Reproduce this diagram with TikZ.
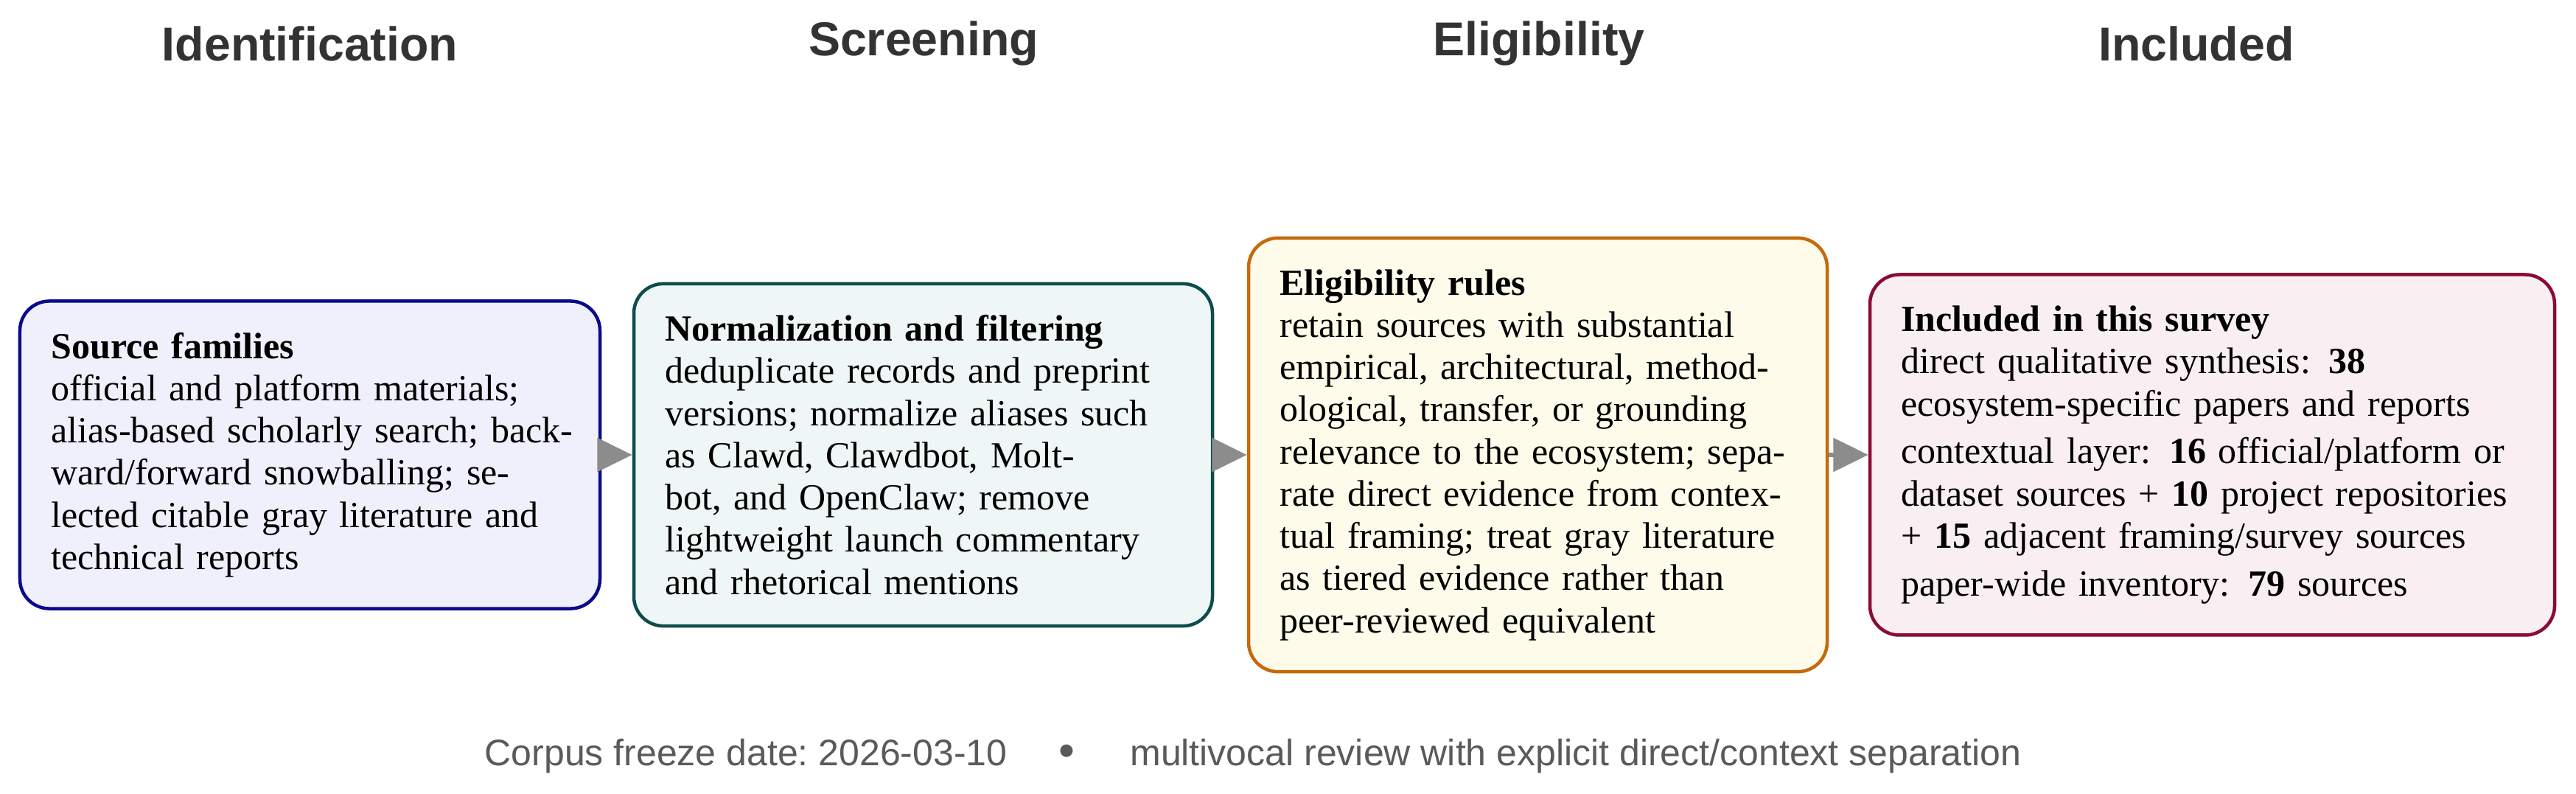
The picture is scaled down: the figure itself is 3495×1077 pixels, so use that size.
\documentclass[tikz,border=0pt]{standalone}
\usepackage{fontspec}
\setmainfont{Liberation Serif}
\newfontfamily\headfont{Liberation Sans}
\usetikzlibrary{arrows.meta}
\definecolor{bAd}{HTML}{0A0A8C}
\definecolor{bAf}{HTML}{F0F0FC}
\definecolor{bBd}{HTML}{0E4D4B}
\definecolor{bBf}{HTML}{EEF7F6}
\definecolor{bCd}{HTML}{C46A0A}
\definecolor{bCf}{HTML}{FFFBEB}
\definecolor{bDd}{HTML}{8A0A38}
\definecolor{bDf}{HTML}{F9EEF2}
\definecolor{headgray}{HTML}{333333}
\definecolor{footgray}{HTML}{5A5A5A}
\definecolor{arrgray}{HTML}{8C8C8C}
\newcommand\bxl[1]{\mbox{#1}\\}
\begin{document}
\begin{tikzpicture}[x=0.2pt,y=-0.2pt,
  stagebox/.style={rectangle, rounded corners=8pt, line width=0.9pt, inner sep=8.5pt,
    align=left, font=\fontsize{10}{11.45}\selectfont, anchor=center},
  stagehead/.style={font=\headfont\bfseries\fontsize{12.9}{15}\selectfont, text=headgray, anchor=center, inner sep=0pt},
  footnode/.style={font=\headfont\fontsize{10}{12}\selectfont\frenchspacing, text=footgray, anchor=base, inner sep=0pt},
  flow/.style={draw=arrgray, line width=1.2pt, -{Triangle[length=9.5pt,width=9pt]}}]
\useasboundingbox (0,0) rectangle (3495,1077);

\node[stagehead] (h1) at (420.5,59) {Identification};
\node[stagehead] (h2) at (1253,59) {Screening};
\node[stagehead] (h3) at (2088,59) {Eligibility};
\node[stagehead] (h4) at (2980,59) {Included};

\node[stagebox, draw=bAd, fill=bAf, text width=140.4pt] (b1) at (420.5,617) {%
\bxl{\textbf{Source families}}
\bxl{official and platform materials;}
\bxl{alias-based scholarly search; back-}
\bxl{ward/forward snowballing; se-}
\bxl{lected citable gray literature and}
\mbox{technical reports}};

\node[stagebox, draw=bBd, fill=bBf, text width=140pt] (b2) at (1252.5,617) {%
\bxl{\textbf{Normalization and filtering}}
\bxl{deduplicate records and preprint}
\bxl{versions; normalize aliases such}
\bxl{as Clawd, Clawdbot, Molt-}
\bxl{bot, and OpenClaw; remove}
\bxl{lightweight launch commentary}
\mbox{and rhetorical mentions}};

\node[stagebox, draw=bCd, fill=bCf, text width=140pt] (b3) at (2086.5,617) {%
\bxl{\textbf{Eligibility rules}}
\bxl{retain sources with substantial}
\bxl{empirical, architectural, method-}
\bxl{ological, transfer, or grounding}
\bxl{relevance to the ecosystem; sepa-}
\bxl{rate direct evidence from contex-}
\bxl{tual framing; treat gray literature}
\bxl{as tiered evidence rather than}
\mbox{peer-reviewed equivalent}};

\node[stagebox, draw=bDd, fill=bDf, text width=168.8pt] (b4) at (3001.5,617) {%
\bxl{\textbf{Included in this survey}}
\bxl{direct qualitative synthesis:\enskip\textbf{38}}
\mbox{ecosystem-specific papers and reports}\\[1.5pt]
\bxl{contextual layer:\enskip\textbf{16} official/platform or}
\bxl{dataset sources + \textbf{10} project repositories}
\mbox{+ \textbf{15} adjacent framing/survey sources}\\[1.5pt]
\mbox{paper-wide inventory:\enskip\textbf{79} sources}};

\draw[flow] (b1.east) -- (b2.west);
\draw[flow] (b2.east) -- (b3.west);
\draw[flow] (b3.east) -- (b4.west);

\node[footnode] (foot) at (1700,1039) {Corpus freeze date: 2026-03-10\hspace{14pt}\raisebox{-0.2pt}{\scalebox{1.25}{•}}\hspace{15pt}multivocal review with explicit direct/context separation};
\end{tikzpicture}
\end{document}
